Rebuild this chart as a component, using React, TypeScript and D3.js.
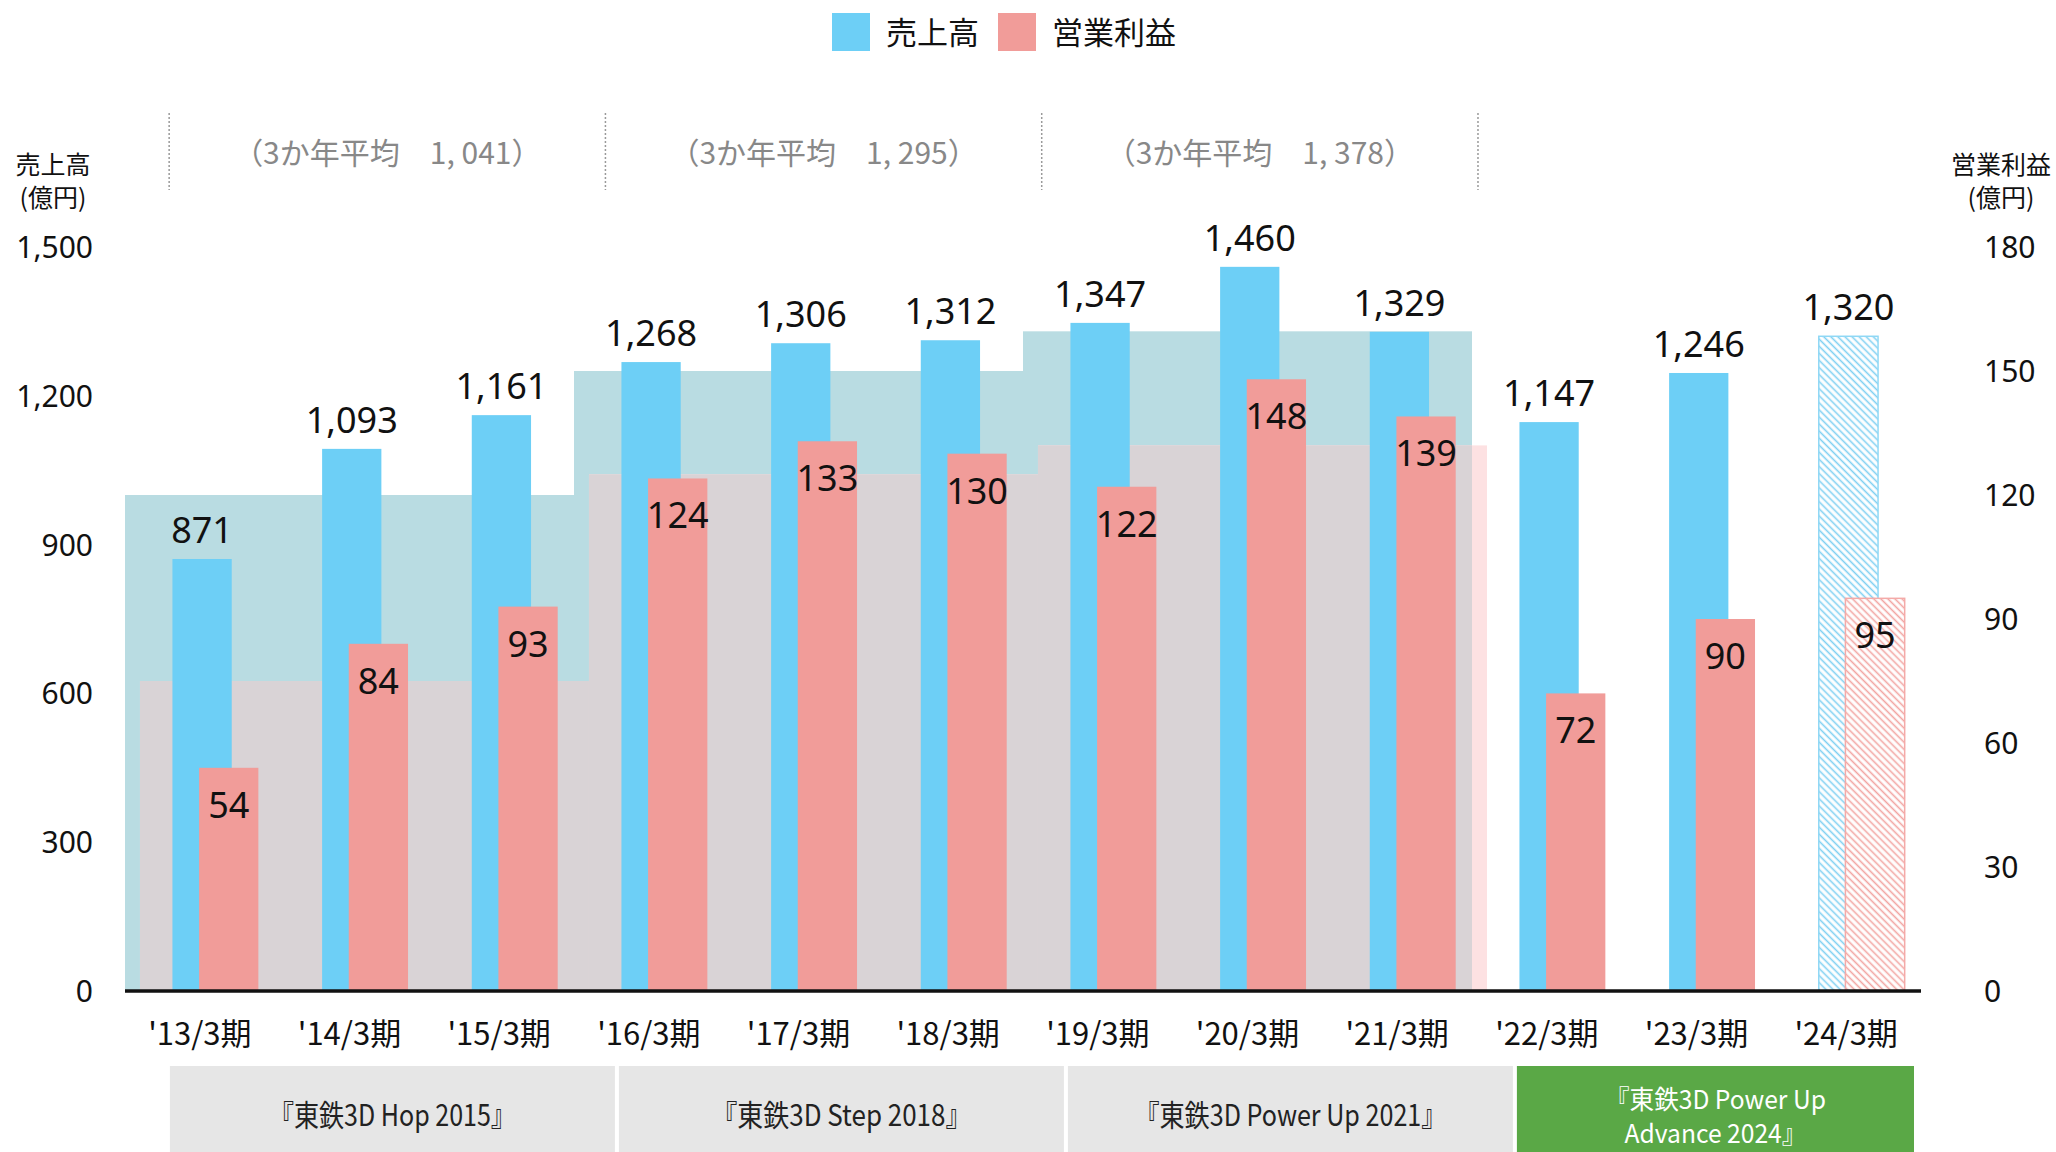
import React from 'react';
import * as d3 from 'd3';

// 年度
const categories = ["'13/3期", "'14/3期", "'15/3期", "'16/3期", "'17/3期", "'18/3期", "'19/3期", "'20/3期", "'21/3期", "'22/3期", "'23/3期", "'24/3期"];
// 売上高 (億円)
const sales = [871, 1093, 1161, 1268, 1306, 1312, 1347, 1460, 1329, 1147, 1246, 1320];
// 営業利益 (億円)
const profit = [54, 84, 93, 124, 133, 130, 122, 148, 139, 72, 90, 95];
// 最後の年度は計画値（ハッチング）
const planYear = [false, false, false, false, false, false, false, false, false, false, false, true];

// 中期経営計画
const planNames = [['『東鉄3D Hop 2015』'], ['『東鉄3D Step 2018』'], ['『東鉄3D Power Up 2021』'], ['『東鉄3D Power Up', 'Advance 2024』']];
const planStart = [0, 3, 6, 9];
const salesTargets = [1000, 1250, 1330];
const profitTargets = [75, 125, 132];
const avgLabels = ['（3か年平均　1, 041）', '（3か年平均　1, 295）', '（3か年平均　1, 378）'];

const leftTicks = [0, 300, 600, 900, 1200, 1500];
const rightTicks = [0, 30, 60, 90, 120, 150, 180];

const BLUE = '#6dcff6';
const PINK = '#f19c99';
const TEAL = '#b9dce2';
const PINKGREY = '#d9d3d6';
const LIGHTPINK = '#fde1e2';

const W = 2056;
const H = 1152;

// 全角=1em, 半角=0.5em として幅を見積もる
const monoWidth = (s: string, size: number) =>
  Array.from(s).reduce((a, ch) => a + (ch.charCodeAt(0) > 0x2000 ? 1 : 0.5), 0) * size;

const App = () => {
  const x = d3.scaleBand().domain(categories).range([125, 1921]).paddingInner(0).paddingOuter(0);
  const bw = x.bandwidth();
  const ySales = d3.scaleLinear().domain([0, 1500]).range([991, 247]);
  const yProfit = d3.scaleLinear().domain([0, 180]).range([991, 247]);
  const base = ySales(0);

  const bandX = (i: number) => (x(categories[i]) as number);
  const blueX = (i: number) => bandX(i) + bw * 0.317;
  const pinkX = (i: number) => bandX(i) + bw * 0.495;
  const barW = bw * 0.396;

  // 3か年平均見出しの区切り
  const sep = d3.scaleLinear().domain([0, 3]).range([bandX(0) + bw * 0.295, bandX(9) + bw * 0.04]);

  const cjk = '"Noto Sans CJK JP", "Noto Sans", sans-serif';
  const num = '"Noto Sans", "Noto Sans CJK JP", sans-serif';

  const planX0 = (i: number) => bandX(planStart[i]) + bw * 0.3;
  const planX1 = (i: number) => (i < planStart.length - 1 ? planX0(i + 1) - 4 : 1921 - 7);

  return (
    <div style={{ position: 'absolute', left: 0, top: 0 }}>
      <svg width={W} height={H} style={{ display: 'block', background: '#fff' }}>
        <defs>
          <pattern id="hatchBlue" width="5" height="5" patternUnits="userSpaceOnUse" patternTransform="rotate(-45)">
            <rect width="5" height="5" fill="#fff" />
            <line x1="1.5" y1="0" x2="1.5" y2="5" stroke="#7fd0f2" strokeWidth="1.6" />
          </pattern>
          <pattern id="hatchPink" width="5" height="5" patternUnits="userSpaceOnUse" patternTransform="rotate(-45)">
            <rect width="5" height="5" fill="#fff" />
            <line x1="1.5" y1="0" x2="1.5" y2="5" stroke="#f2a5a2" strokeWidth="1.6" />
          </pattern>
          <clipPath id="tealClip">
            {salesTargets.map((t, i) => (
              <rect key={i} x={bandX(planStart[i])} y={ySales(t)} width={bw * 3} height={base - ySales(t)} />
            ))}
          </clipPath>
        </defs>

        {/* 凡例 */}
        <g fontFamily={cjk} fontSize={31} fill="#111">
          <rect x={832} y={13} width={38} height={38} fill={BLUE} />
          <text x={886} y={44}>売上高</text>
          <rect x={998} y={13} width={38} height={38} fill={PINK} />
          <text x={1052} y={44}>営業利益</text>
        </g>

        {/* 軸タイトル */}
        <g fontFamily={cjk} fontSize={25} fill="#111" textAnchor="middle">
          <text x={53} y={174}>売上高</text>
          <text x={53} y={207}>(億円)</text>
          <text x={2001} y={174}>営業利益</text>
          <text x={2001} y={207}>(億円)</text>
        </g>

        {/* 3か年平均 見出し */}
        {[0, 1, 2, 3].map(i => (
          <line key={i} x1={sep(i)} x2={sep(i)} y1={113} y2={190} stroke="#9a9a9a" strokeWidth={1.5} strokeDasharray="2 2" />
        ))}
        {avgLabels.map((s, i) => (
          <text key={i} x={(sep(i) + sep(i + 1)) / 2} y={164} textAnchor="middle" fontFamily={cjk} fontSize={30} fill="#888">{s}</text>
        ))}

        {/* 計画目標の背景 */}
        {salesTargets.map((t, i) => (
          <rect key={'t' + i} x={bandX(planStart[i])} y={ySales(t)} width={bw * 3} height={base - ySales(t)} fill={TEAL} />
        ))}
        {profitTargets.map((t, i) => (
          <rect key={'p' + i} x={bandX(planStart[i]) + bw * 0.1} y={yProfit(t)} width={bw * 3} height={base - yProfit(t)} fill={LIGHTPINK} />
        ))}
        <g clipPath="url(#tealClip)">
          {profitTargets.map((t, i) => (
            <rect key={'g' + i} x={bandX(planStart[i]) + bw * 0.1} y={yProfit(t)} width={bw * 3} height={base - yProfit(t)} fill={PINKGREY} />
          ))}
        </g>

        {/* 棒 */}
        {categories.map((c, i) => (
          <g key={c}>
            <rect x={blueX(i)} y={ySales(sales[i])} width={barW} height={base - ySales(sales[i])}
              fill={planYear[i] ? 'url(#hatchBlue)' : BLUE} stroke={planYear[i] ? '#8fd8f5' : 'none'} strokeWidth={1.5} />
            <rect x={pinkX(i)} y={yProfit(profit[i])} width={barW} height={base - yProfit(profit[i])}
              fill={planYear[i] ? 'url(#hatchPink)' : PINK} stroke={planYear[i] ? '#f4aaa8' : 'none'} strokeWidth={1.5} />
          </g>
        ))}

        {/* 値ラベル */}
        <g fontFamily={num} fontSize={36} fill="#111" textAnchor="middle">
          {categories.map((c, i) => (
            <text key={'s' + c} x={blueX(i) + barW / 2} y={ySales(sales[i]) - 16}>{d3.format(',')(sales[i])}</text>
          ))}
          {categories.map((c, i) => (
            <text key={'p' + c} x={pinkX(i) + barW / 2} y={yProfit(profit[i]) + 50}>{profit[i]}</text>
          ))}
        </g>

        {/* 軸線 */}
        <line x1={125} x2={1921} y1={base} y2={base} stroke="#111" strokeWidth={3.5} />

        {/* 目盛 */}
        <g fontFamily={num} fontSize={30} fill="#111">
          {leftTicks.map(t => (
            <text key={t} x={93} y={ySales(t) + 11} textAnchor="end">{d3.format(',')(t)}</text>
          ))}
          {rightTicks.map(t => (
            <text key={t} x={1984} y={yProfit(t) + 11} textAnchor="start">{t}</text>
          ))}
        </g>

        {/* 年度ラベル */}
        <g fontFamily={cjk} fontSize={31} fill="#111" textAnchor="middle">
          {categories.map(c => (
            <text key={c} x={(x(c) as number) + bw / 2} y={1045}>{c}</text>
          ))}
        </g>

        {/* 中期経営計画 */}
        {planNames.map((lines, i) => {
          const x0 = planX0(i);
          const x1 = planX1(i);
          const last = i === planNames.length - 1;
          const cy = 1066 + (H - 1066) / 2;
          return (
            <g key={i}>
              <rect x={x0} y={1066} width={x1 - x0} height={H - 1066} fill={last ? '#5aa846' : '#e6e6e6'} />
              {lines.map((s, j) => (
                <text key={j} x={(x0 + x1) / 2} y={cy + 17 + (j - (lines.length - 1) / 2) * 34}
                  textAnchor="middle" fontFamily={cjk} fontSize={lines.length > 1 ? 26 : 30} fill={last ? '#fff' : '#222'}
                  textLength={monoWidth(s, 26)} lengthAdjust="spacingAndGlyphs">{s}</text>
              ))}
            </g>
          );
        })}
      </svg>
    </div>
  );
};

export default App;
